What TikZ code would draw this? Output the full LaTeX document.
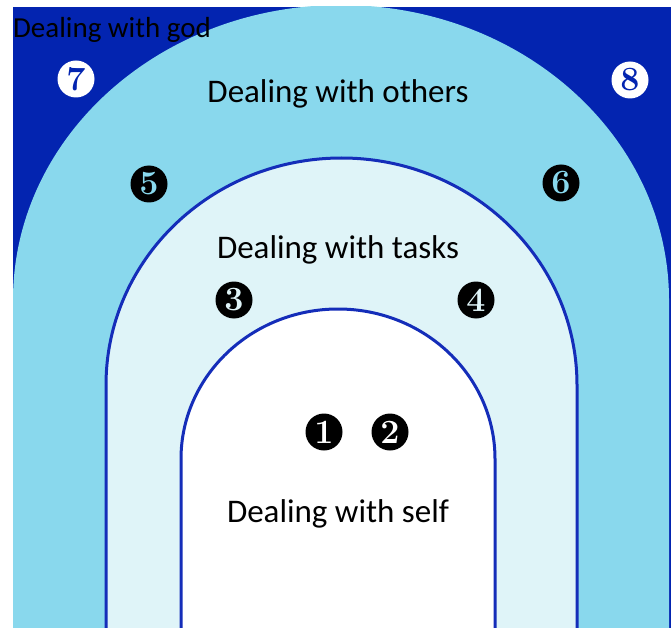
\documentclass[tikz,border=0pt]{standalone}
\usepackage{fontspec}
\newfontfamily\calfont{Carlito}

\begin{document}
\begin{tikzpicture}[x=1pt,y=-1pt,
    ring/.style={draw=ringline,line width=3pt},
    zone/.style={font=\calfont\fontsize{33}{40}\selectfont},
    numdot/.style 2 args={circle,fill=#1,text=#2,minimum size=37pt,inner sep=0pt,
      font=\fontsize{34}{34}\selectfont\bfseries}]
\definecolor{godblue}{RGB}{3,36,176}
\definecolor{othersblue}{RGB}{137,216,237}
\definecolor{taskblue}{RGB}{223,244,248}
\definecolor{ringline}{RGB}{20,45,185}

\useasboundingbox (0,0) rectangle (671,628);

% the three zones, cut to the frame
\begin{scope}
\clip (13,7) rectangle (671,628);
\fill[godblue] (13,7) rectangle (671,628);
\fill[othersblue] (13,640) -- (13,300)
  arc[start angle=180,end angle=360,x radius=328,y radius=295] -- (669,640) -- cycle;
\filldraw[fill=taskblue,ring] (106,640) -- (106,385)
  arc[start angle=180,end angle=360,x radius=235.5,y radius=227] -- (577,640);
\filldraw[fill=white,ring] (181,640) -- (181,459)
  arc[start angle=180,end angle=360,x radius=157,y radius=150] -- (495,640);
\end{scope}

\node[zone,font=\calfont\fontsize{29}{35}\selectfont] (god) at (112,30) {Dealing with god};
\node[zone] (others) at (338,94) {Dealing with others};
\node[zone] (tasks) at (338,250) {Dealing with tasks};
\node[zone] (self) at (338,514) {Dealing with self};

\node[numdot={white}{godblue}] (n7) at (76,79) {7};
\node[numdot={white}{godblue}] (n8) at (630,80) {8};
\node[numdot={black}{othersblue}] (n5) at (149,184) {5};
\node[numdot={black}{othersblue}] (n6) at (561,183) {6};
\node[numdot={black}{taskblue}] (n3) at (234,300) {3};
\node[numdot={black}{taskblue}] (n4) at (476,300) {4};
\node[numdot={black}{white}] (n1) at (324,432) {1};
\node[numdot={black}{white}] (n2) at (390,432) {2};
\end{tikzpicture}
\end{document}
